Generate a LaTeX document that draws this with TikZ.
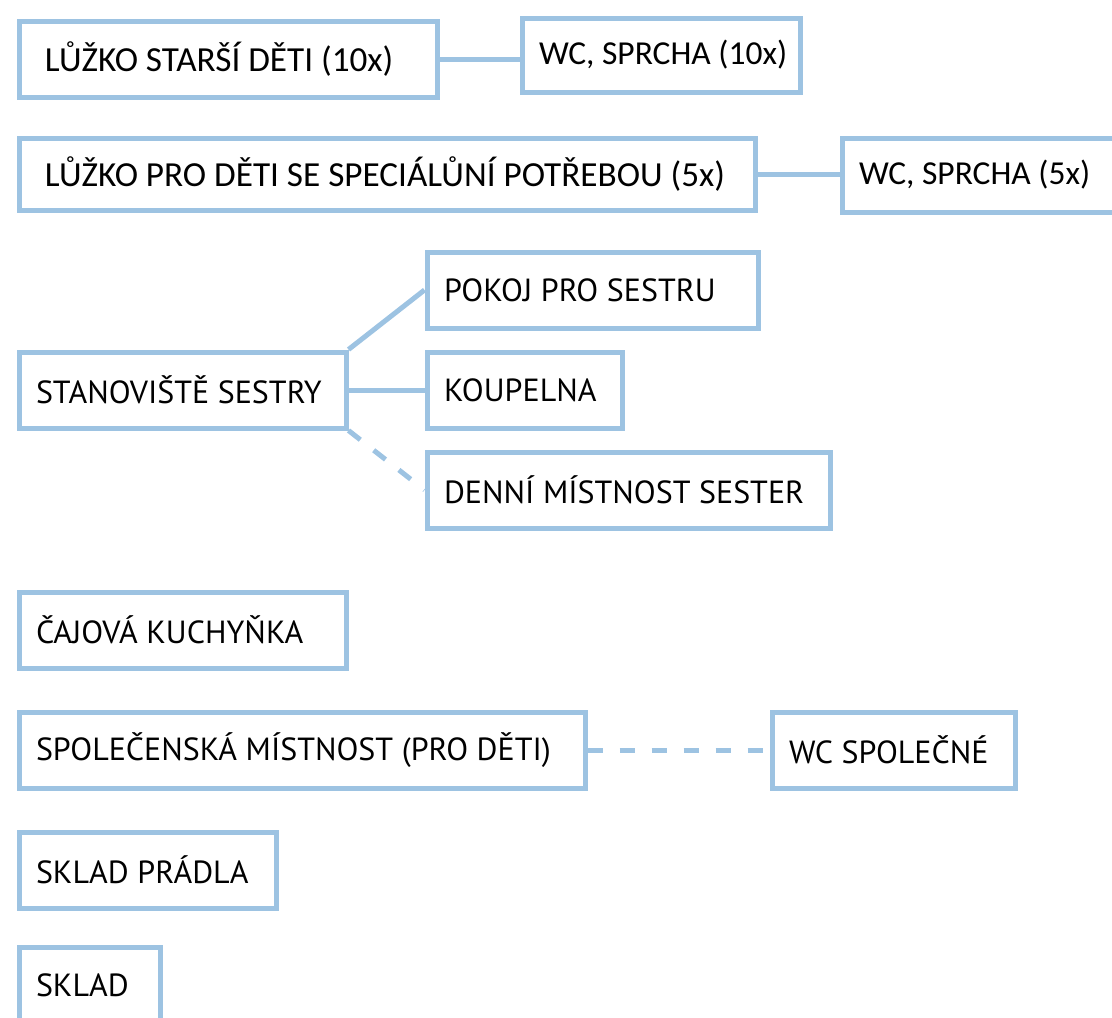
\documentclass[tikz,border=0pt]{standalone}
\usepackage{fontspec}
\setmainfont{PT Sans}
\newfontfamily\bedfont{Carlito}
\definecolor{roomblue}{RGB}{157,195,226}

\tikzset{
  room/.style={draw=roomblue, line width=5pt, anchor=north west,
               minimum height=76pt, inner xsep=17pt, inner ysep=0pt,
               text width=#1,
               execute at begin node={\spaceskip=0pt\xspaceskip=0pt\hbox\bgroup},
               execute at end node={\egroup},
               font=\fontsize{32}{38}\selectfont},
  bedroom/.style={room=#1, inner xsep=26pt,
                  font=\bedfont\fontsize{35.2}{40}\selectfont},
  washroom/.style={room=#1, font=\bedfont\fontsize{33.5}{40}\selectfont},
  link/.style={draw=roomblue, line width=5pt},
  dashlink/.style={link, dash pattern=on 15pt off 17pt}
}

\begin{document}
\begin{tikzpicture}[x=1pt,y=-1pt]
\useasboundingbox (0,0) rectangle (1112,1018);

% beds and their washrooms
\node[bedroom=366pt] (lsd)  at (16.5,18.5)  {LŮŽKO STARŠÍ DĚTI (10x)};
\node[washroom=244pt, minimum height=74pt] (wc10) at (519.5,15.5) {WC, SPRCHA (10x)};
\node[bedroom=684pt, minimum height=72pt] (lpd) at (16.5,135.5)
     {LŮŽKO PRO DĚTI SE SPECIÁLŮNÍ POTŘEBOU (5x)};
\node[washroom=242pt, minimum height=74pt] (wc5) at (839.5,135.5) {WC, SPRCHA (5x)};

% nurse station
\node[room=297pt] (pokoj) at (424.5,249.5) {POKOJ PRO SESTRU};
\node[room=293pt] (stan)  at (16.5,349.5)  {STANOVIŠTĚ SESTRY};
\node[room=161pt] (koup)  at (424.5,349.5) {KOUPELNA};
\node[room=369pt] (denni) at (424.5,449.5) {DENNÍ MÍSTNOST SESTER};

% other rooms
\node[room=293pt] (caj)  at (16.5,589.5)  {ČAJOVÁ KUCHYŇKA};
\node[room=532pt] (spol) at (16.5,709.5)  {SPOLEČENSKÁ MÍSTNOST (PRO DĚTI)};
\node[room=209pt] (wcs)  at (769.5,709.5) {WC SPOLEČNÉ};
\node[room=223pt] (sklp) at (16.5,829.5)  {SKLAD PRÁDLA};
\node[room=107pt] (skl)  at (16.5,944.5)  {SKLAD};

\draw[link] (lsd.east) -- (lsd.east -| wc10.west);
\draw[link] (lpd.east) -- (lpd.east -| wc5.west);
\draw[link] (stan.north east) -- (pokoj.west);
\draw[link] (stan.east) -- (koup.west);
\draw[dashlink] (stan.south east) -- (denni.west);
\draw[dashlink] (spol.east) -- (wcs.west);
\end{tikzpicture}
\end{document}
